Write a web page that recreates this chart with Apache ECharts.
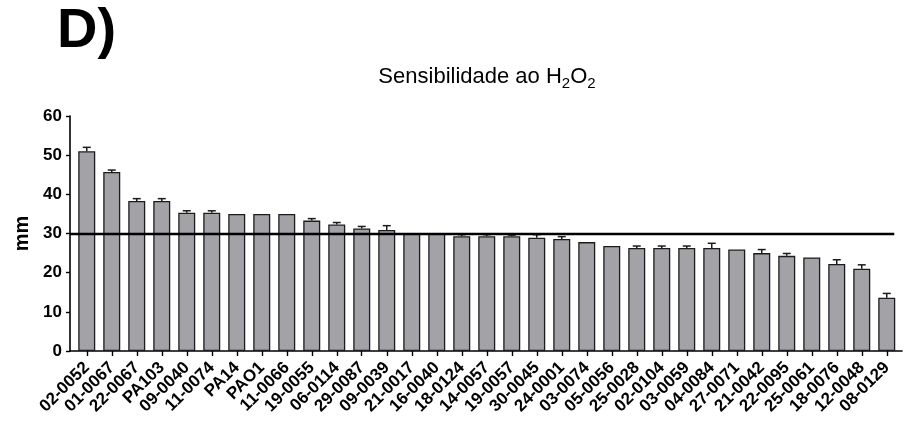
<!DOCTYPE html>
<html>
<head>
<meta charset="utf-8">
<script src="https://cdn.jsdelivr.net/npm/echarts@6/dist/echarts.min.js"></script>
<style>
  html, body { margin: 0; padding: 0; background: #fff; }
  #chart { width: 912px; height: 425px; }
</style>
</head>
<body>
<div id="chart"></div>
<script>
// Strains, ordered by inhibition zone diameter
const strains = [
  '02-0052', '01-0067', '22-0067', 'PA103', '09-0040', '11-0074', 'PA14', 'PAO1',
  '11-0066', '19-0055', '06-0114', '29-0087', '09-0039', '21-0017', '16-0040',
  '18-0124', '14-0057', '19-0057', '30-0045', '24-0001', '03-0074', '05-0056',
  '25-0028', '02-0104', '03-0059', '04-0084', '27-0071', '21-0042', '22-0095',
  '25-0061', '18-0076', '12-0048', '08-0129'
];
// Mean inhibition zone (mm)
const meanMm = [
  51.0, 45.7, 38.3, 38.3, 35.3, 35.3, 35.0, 35.0,
  35.0, 33.3, 32.3, 31.3, 30.9, 30.0, 30.0,
  29.3, 29.3, 29.3, 28.9, 28.6, 27.8, 26.8,
  26.3, 26.3, 26.3, 26.3, 25.9, 25.0, 24.3,
  23.9, 22.2, 21.0, 13.6
];
// Standard error (upper whisker only)
const semMm = [
  1.0, 0.5, 0.6, 0.6, 0.5, 0.5, 0, 0,
  0, 0.5, 0.5, 0.5, 1.1, 0, 0,
  0.4, 0.4, 0.3, 0.8, 0.6, 0, 0,
  0.5, 0.5, 0.5, 1.2, 0, 0.9, 0.6,
  0, 1.1, 1.0, 1.1
];
// Y axis ticks
const yTicks = [0, 10, 20, 30, 40, 50, 60];
// Sensitivity cut-off (mm)
const cutoff = 30;

const FONT = '"Liberation Sans", Arial, Helvetica, sans-serif';
const idx = strains.map((_, i) => i);

const chart = echarts.init(document.getElementById('chart'), null, { renderer: 'canvas' });

chart.setOption({
  animation: false,
  backgroundColor: '#ffffff',
  grid: { left: 70, right: 10, top: 116, bottom: 74, containLabel: false },
  graphic: [
    {
      type: 'text',
      left: 57, top: 4,
      style: {
        text: 'D)',
        font: 'bold 56px ' + FONT,
        fill: '#000'
      }
    },
    {
      type: 'text',
      x: 487, y: 77,
      style: {
        text: '{a|Sensibilidade ao H}{s|2}{a|O}{s|2}',
        align: 'center',
        verticalAlign: 'middle',
        fill: '#000',
        rich: {
          a: { fontFamily: FONT, fontSize: 22, lineHeight: 28, fill: '#000' },
          s: { fontFamily: FONT, fontSize: 15, lineHeight: 28, verticalAlign: 'bottom', fill: '#000' }
        }
      }
    }
  ],
  xAxis: {
    type: 'value',
    min: -0.67,
    max: 32.61,
    splitLine: { show: false },
    axisLine: { show: true, onZero: false, lineStyle: { color: '#000', width: 1.6 } },
    axisTick: {
      show: true, length: 5, inside: false,
      customValues: idx,
      lineStyle: { color: '#000', width: 1.4 }
    },
    axisLabel: {
      customValues: idx,
      rotate: 45,
      margin: 14,
      fontFamily: FONT,
      fontWeight: 'bold',
      fontSize: 17,
      color: '#000',
      formatter: v => strains[Math.round(v)]
    }
  },
  yAxis: {
    type: 'value',
    min: 0, max: 60, interval: 10,
    name: 'mm',
    nameLocation: 'middle',
    nameGap: 32,
    nameTextStyle: { fontFamily: FONT, fontWeight: 'bold', fontSize: 20, color: '#000' },
    splitLine: { show: false },
    axisLine: { show: true, onZero: false, lineStyle: { color: '#000', width: 1.6 } },
    axisTick: { show: true, length: 4, inside: false, lineStyle: { color: '#000', width: 1.4 } },
    axisLabel: {
      margin: 8,
      fontFamily: FONT, fontWeight: 'bold', fontSize: 17, color: '#000',
      formatter: v => (yTicks.indexOf(v) >= 0 ? String(v) : '')
    }
  },
  series: [
    {
      type: 'bar',
      data: meanMm.map((v, i) => [i, v]),
      barWidth: 17,
      itemStyle: { color: '#a2a2a7', borderColor: '#1c1c1c', borderWidth: 1.3 },
      markLine: {
        silent: true,
        symbol: 'none',
        label: { show: false },
        lineStyle: { color: '#000', width: 2.4, type: 'solid' },
        data: [[{ coord: [-0.67, cutoff] }, { coord: [32.3, cutoff] }]],
        z: 5
      }
    },
    {
      type: 'custom',
      z: 4,
      data: meanMm.map((v, i) => [i, v, v + semMm[i]]),
      renderItem: function (params, api) {
        const i = api.value(0);
        if (api.value(2) <= api.value(1)) return null;
        const base = api.coord([i, api.value(1)]);
        const top = api.coord([i, api.value(2)]);
        const half = 4;
        const style = { stroke: '#1c1c1c', lineWidth: 1.5 };
        return {
          type: 'group',
          children: [
            { type: 'line', shape: { x1: base[0], y1: base[1], x2: top[0], y2: top[1] }, style },
            { type: 'line', shape: { x1: top[0] - half, y1: top[1], x2: top[0] + half, y2: top[1] }, style }
          ]
        };
      }
    }
  ]
});
</script>
</body>
</html>
